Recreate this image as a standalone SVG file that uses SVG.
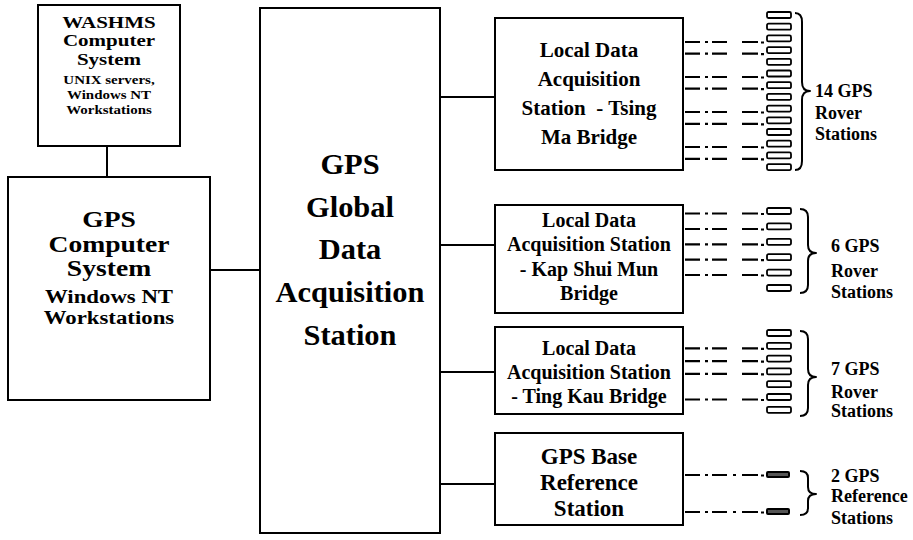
<svg xmlns="http://www.w3.org/2000/svg" width="913" height="540" viewBox="0 0 913 540">
  <style>
    .box { fill: #fff; stroke: #000; stroke-width: 2; }
    .wire { fill: none; stroke: #000; stroke-width: 2; }
    .dash { fill: none; stroke: #000; stroke-width: 2.2; }
    .rover { fill: #fff; stroke: #000; stroke-width: 1.8; }
    .refst { fill: #555; stroke: #000; stroke-width: 2; }
    .brace { fill: none; stroke: #000; stroke-width: 2; stroke-linejoin: round; }
    .t { font-family: "Liberation Serif", "Times New Roman", serif; font-weight: bold; fill: #000; text-anchor: middle; }
    .lbl { font-family: "Liberation Serif", "Times New Roman", serif; font-weight: bold; fill: #000; font-size: 18px; }
  </style>
  <defs>
    <!-- dash-dot link from a local station box to one GPS unit -->
    <g id="link">
      <path class="dash" d="M685,0 H700 M705,0 H708 M712,0 H727 M742,0 H758 M761,0.5 H764"/>
    </g>
    <rect id="unit" class="rover" x="767" y="0" width="24" height="6" rx="1.5"/>
  </defs>

  <!-- connectors between the main blocks -->
  <g id="connectors">
    <path class="wire" d="M107,146 V177"/>
    <path class="wire" d="M210,270 H260"/>
    <path class="wire" d="M440,97 H495"/>
    <path class="wire" d="M440,245 H495"/>
    <path class="wire" d="M440,372 H495"/>
    <path class="wire" d="M440,484 H495"/>
  </g>

  <g id="washms">
    <rect class="box" x="38" y="5" width="142" height="141"/>
    <g transform="translate(109,0) scale(1.2,1)">
      <text class="t" x="0" y="28" font-size="17.5">WASHMS</text>
      <text class="t" x="0" y="46" font-size="17.5">Computer</text>
      <text class="t" x="0" y="65" font-size="17.5">System</text>
    </g>
    <g transform="translate(109,0) scale(1.15,1)">
      <text class="t" x="0" y="84" font-size="13">UNIX servers,</text>
      <text class="t" x="0" y="99" font-size="13">Windows NT</text>
      <text class="t" x="0" y="114" font-size="13">Workstations</text>
    </g>
  </g>

  <g id="gps-computer">
    <rect class="box" x="8" y="177" width="202" height="223"/>
    <g transform="translate(109,0) scale(1.2,1)">
      <text class="t" x="0" y="227" font-size="23">GPS</text>
      <text class="t" x="0" y="252" font-size="23">Computer</text>
      <text class="t" x="0" y="276" font-size="23">System</text>
      <text class="t" x="0" y="303" font-size="19">Windows NT</text>
      <text class="t" x="0" y="324" font-size="19">Workstations</text>
    </g>
  </g>

  <g id="global-daq">
    <rect class="box" x="260" y="8" width="180" height="525"/>
    <g transform="translate(350,0) scale(1.05,1)">
      <text class="t" x="0" y="174" font-size="29">GPS</text>
      <text class="t" x="0" y="217" font-size="29">Global</text>
      <text class="t" x="0" y="259" font-size="29">Data</text>
      <text class="t" x="0" y="302" font-size="29">Acquisition</text>
      <text class="t" x="0" y="345" font-size="29">Station</text>
    </g>
  </g>

  <g id="local-tsing-ma">
    <rect class="box" x="495" y="18" width="188" height="152"/>
    <text class="t" x="589" y="57" font-size="21">Local Data</text>
    <text class="t" x="589" y="86" font-size="21">Acquisition</text>
    <text class="t" x="589" y="115" font-size="21">Station&#160; - Tsing</text>
    <text class="t" x="589" y="144" font-size="21">Ma Bridge</text>
  </g>

  <g id="local-kap-shui-mun">
    <rect class="box" x="495" y="205" width="188" height="108"/>
    <text class="t" x="589" y="227" font-size="20">Local Data</text>
    <text class="t" x="589" y="251" font-size="20">Acquisition Station</text>
    <text class="t" x="589" y="276" font-size="20">- Kap Shui Mun</text>
    <text class="t" x="589" y="300" font-size="20">Bridge</text>
  </g>

  <g id="local-ting-kau">
    <rect class="box" x="495" y="327" width="188" height="87"/>
    <text class="t" x="589" y="355" font-size="20">Local Data</text>
    <text class="t" x="589" y="379" font-size="20">Acquisition Station</text>
    <text class="t" x="589" y="403" font-size="20">- Ting Kau Bridge</text>
  </g>

  <g id="base-reference">
    <rect class="box" x="495" y="433" width="188" height="92"/>
    <text class="t" x="589" y="464" font-size="23">GPS Base</text>
    <text class="t" x="589" y="490" font-size="23">Reference</text>
    <text class="t" x="589" y="516" font-size="23">Station</text>
  </g>

  <!-- Tsing Ma: 14 rover units -->
  <g id="rovers-tsing-ma">
    <use href="#link" y="42"/><use href="#link" y="53.6"/>
    <use href="#link" y="77"/><use href="#link" y="88.7"/>
    <use href="#link" y="112"/><use href="#link" y="123.8"/>
    <use href="#link" y="147"/><use href="#link" y="158.9"/>
    <use href="#unit" y="12"/><use href="#unit" y="23.7"/><use href="#unit" y="35.4"/>
    <use href="#unit" y="47.1"/><use href="#unit" y="58.8"/><use href="#unit" y="70.5"/>
    <use href="#unit" y="82.2"/><use href="#unit" y="93.9"/><use href="#unit" y="105.6"/>
    <use href="#unit" y="117.3"/><use href="#unit" y="129"/><use href="#unit" y="140.7"/>
    <use href="#unit" y="152.4"/><use href="#unit" y="164.1"/>
    <path class="brace" d="M795,13 Q802,13 802,22 V82 Q802,91 810,91 Q802,91 802,100 V161 Q802,170 795,170"/>
    <text class="lbl" x="815" y="97">14 GPS</text>
    <text class="lbl" x="815" y="119" font-size="17">Rover</text>
    <text class="lbl" x="815" y="140" font-size="17">Stations</text>
  </g>

  <!-- Kap Shui Mun: 6 rover units -->
  <g id="rovers-kap-shui-mun">
    <use href="#link" y="213.5"/><use href="#link" y="229"/><use href="#link" y="244.3"/>
    <use href="#link" y="259.7"/><use href="#link" y="275"/>
    <use href="#unit" y="208"/><use href="#unit" y="223.4"/><use href="#unit" y="238.8"/>
    <use href="#unit" y="254.2"/><use href="#unit" y="269.6"/><use href="#unit" y="285"/>
    <path class="brace" d="M800,209 Q808,209 808,217 V245 Q808,253 816,253 Q808,253 808,261 V285 Q808,293 800,293"/>
    <text class="lbl" x="831" y="252">6 GPS</text>
    <text class="lbl" x="831" y="277" font-size="17">Rover</text>
    <text class="lbl" x="831" y="298" font-size="17">Stations</text>
  </g>

  <!-- Ting Kau: 7 rover units -->
  <g id="rovers-ting-kau">
    <use href="#link" y="348.3"/><use href="#link" y="361.1"/><use href="#link" y="373.9"/>
    <use href="#link" y="399.5"/>
    <use href="#unit" y="330"/><use href="#unit" y="342.8"/><use href="#unit" y="355.6"/>
    <use href="#unit" y="368.4"/><use href="#unit" y="381.2"/><use href="#unit" y="394"/>
    <use href="#unit" y="406.8"/>
    <path class="brace" d="M800,331 Q808,331 808,339 V369 Q808,377 816,377 Q808,377 808,385 V408 Q808,416 800,416"/>
    <text class="lbl" x="831" y="375">7 GPS</text>
    <text class="lbl" x="831" y="398" font-size="17">Rover</text>
    <text class="lbl" x="831" y="417" font-size="17">Stations</text>
  </g>

  <!-- base reference units -->
  <g id="reference-units">
    <path class="dash" d="M685,475 H700 M705,475 H708 M712,475 H727 M733,475 H736 M742,475 H758 M761,475.5 H764"/>
    <path class="dash" d="M685,512 H700 M705,512 H708 M712,512 H727 M733,512 H736 M742,512 H758 M761,512.5 H764"/>
    <rect class="refst" x="767" y="472" width="22" height="5" rx="1"/>
    <rect class="refst" x="767" y="509" width="22" height="5" rx="1"/>
    <path class="brace" d="M800,471 Q808,471 808,478 V487 Q808,494 816,494 Q808,494 808,501 V508 Q808,515 800,515"/>
    <text class="lbl" x="831" y="482">2 GPS</text>
    <text class="lbl" x="831" y="502" font-size="17">Reference</text>
    <text class="lbl" x="831" y="524" font-size="17">Stations</text>
  </g>
</svg>
